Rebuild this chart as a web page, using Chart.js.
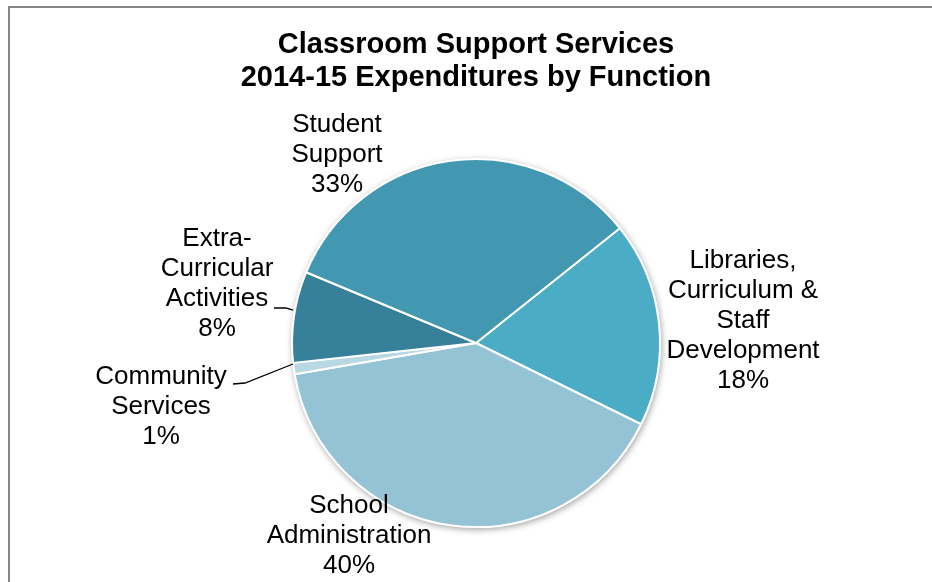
<!DOCTYPE html>
<html>
<head>
<meta charset="utf-8">
<script src="https://cdn.jsdelivr.net/npm/chart.js@4/dist/chart.umd.min.js"></script>
<style>
  html, body { margin: 0; padding: 0; background: #fff; }
  #wrap { width: 932px; height: 582px; position: relative; }
</style>
</head>
<body>
<div id="wrap"><canvas id="chart" width="932" height="582"></canvas></div>
<script>
// Slice data, clockwise from the upper right
const categories = [
  ['Libraries,', 'Curriculum &', 'Staff', 'Development'],
  ['School', 'Administration'],
  ['Community', 'Services'],
  ['Extra-', 'Curricular', 'Activities'],
  ['Student', 'Support'],
];
const percentages = [18, 40, 1, 8, 33];
const sliceColors = ['#4BACC6', '#93C3D4', '#B8D8E4', '#37809A', '#4298B0'];
const titleLines = ['Classroom Support Services', '2014-15 Expenditures by Function'];

// where each label block sits, relative to the pie centre (px)
const labelOffsets = [[267, -22], [-127, 193], [-315, 64], [-259, -59], [-139, -188]];
// leader lines (relative to pie centre), only for the two small left slices
const leaders = {
  2: [[-243, 41], [-231, 40], [-183, 21]],
  3: [[-202, -35], [-190, -35], [-183, -33]],
};

const FONT = "'Liberation Sans', Arial, sans-serif";

// thin grey frame like the pasted chart box
const framePlugin = {
  id: 'frame',
  beforeDraw: (chart) => {
    const { ctx } = chart;
    ctx.save();
    ctx.strokeStyle = '#858585';
    ctx.lineWidth = 2;
    ctx.beginPath();
    ctx.moveTo(9, chart.height + 2);
    ctx.lineTo(9, 7);
    ctx.lineTo(chart.width + 2, 7);
    ctx.stroke();
    ctx.restore();
  },
};

// soft shadow behind the pie
const shadowPlugin = {
  id: 'pieShadow',
  beforeDatasetsDraw: (chart) => {
    const arc = chart.getDatasetMeta(0).data[0];
    if (!arc) return;
    const { ctx } = chart;
    ctx.save();
    ctx.shadowColor = 'rgba(0,0,0,0.35)';
    ctx.shadowBlur = 6;
    ctx.shadowOffsetX = 1;
    ctx.shadowOffsetY = 2;
    ctx.fillStyle = '#fff';
    ctx.beginPath();
    ctx.arc(arc.x, arc.y, arc.outerRadius + 1, 0, Math.PI * 2);
    ctx.fill();
    ctx.restore();
  },
};

// outside labels with name + percent
const sliceLabelPlugin = {
  id: 'sliceLabels',
  afterDatasetsDraw: (chart) => {
    const { ctx } = chart;
    const meta = chart.getDatasetMeta(0);
    const cx = meta.data[0].x;
    const cy = meta.data[0].y;
    const lineH = 30;

    ctx.save();
    ctx.strokeStyle = '#000';
    ctx.lineWidth = 1.3;
    Object.keys(leaders).forEach((k) => {
      const pts = leaders[k];
      ctx.beginPath();
      pts.forEach(([dx, dy], i) => {
        if (i === 0) ctx.moveTo(cx + dx, cy + dy);
        else ctx.lineTo(cx + dx, cy + dy);
      });
      ctx.stroke();
    });

    ctx.fillStyle = '#000';
    ctx.font = `26px ${FONT}`;
    ctx.textAlign = 'center';
    ctx.textBaseline = 'middle';
    meta.data.forEach((el, i) => {
      const lines = [...categories[i], `${percentages[i]}%`];
      const [dx, dy] = labelOffsets[i];
      const top = cy + dy - ((lines.length - 1) * lineH) / 2;
      lines.forEach((t, j) => {
        ctx.fillText(t, cx + dx, top + j * lineH);
      });
    });
    ctx.restore();
  },
};

new Chart(document.getElementById('chart'), {
  type: 'pie',
  data: {
    labels: categories.map((c) => c.join(' ')),
    datasets: [
      {
        data: percentages,
        backgroundColor: sliceColors,
        borderColor: '#ffffff',
        borderWidth: 2,
      },
    ],
  },
  options: {
    responsive: false,
    animation: false,
    rotation: 51.4,
    layout: { padding: { left: 20, right: 0, top: 0, bottom: 54 } },
    plugins: {
      legend: { display: false },
      tooltip: { enabled: false },
      title: {
        display: true,
        text: titleLines,
        color: '#000',
        font: { family: FONT, size: 29, weight: 'bold', lineHeight: 1.138 },
        padding: { top: 28.5, bottom: 63.5 },
      },
    },
  },
  plugins: [framePlugin, shadowPlugin, sliceLabelPlugin],
});
</script>
</body>
</html>
